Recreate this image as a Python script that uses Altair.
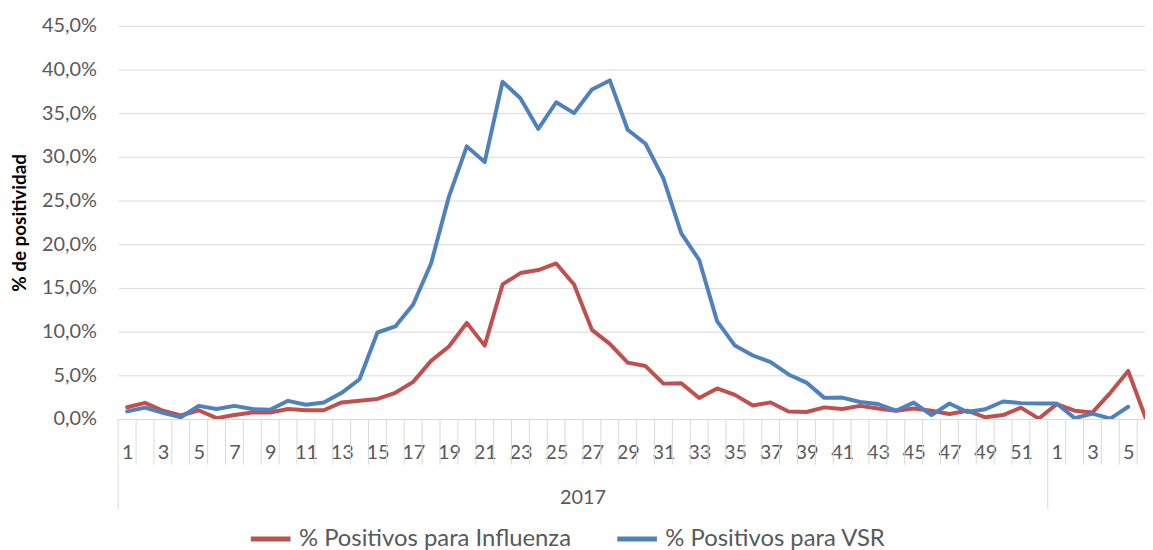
import altair as alt
import pandas as pd

# ---- data ----
week_labels = list(range(1, 53)) + list(range(1, 7))
years = [2017] * 52 + [2018] * 6
years_labelled = [2017]

influenza = [1.35, 1.85, 0.95, 0.4, 1.0, 0.1, 0.45, 0.75, 0.75, 1.15,
             1.0, 1.0, 1.9, 2.1, 2.3, 3.0, 4.25, 6.65, 8.3, 11.0,
             8.4, 15.4, 16.7, 17.05, 17.8, 15.4, 10.2, 8.6, 6.45, 6.06,
             4.05, 4.1, 2.4, 3.5, 2.76, 1.55, 1.9, 0.87, 0.8, 1.33,
             1.14, 1.5, 1.2, 0.95, 1.2, 0.95, 0.57, 0.95, 0.2, 0.45,
             1.3, 0.05, 1.7, 0.95, 0.75, 3.0, 5.5, 0.0]
vsr = [0.87, 1.3, 0.7, 0.2, 1.5, 1.14, 1.5, 1.14, 1.05, 2.08,
       1.63, 1.9, 3.0, 4.55, 9.9, 10.6, 13.1, 17.8, 25.45, 31.2,
       29.4, 38.6, 36.7, 33.2, 36.25, 35.0, 37.7, 38.75, 33.1, 31.5,
       27.5, 21.25, 18.2, 11.2, 8.4, 7.27, 6.5, 5.1, 4.17, 2.42,
       2.45, 1.95, 1.72, 0.95, 1.88, 0.45, 1.78, 0.8, 1.12, 2.0,
       1.82, 1.78, 1.78, 0.1, 0.62, 0.05, 1.4, None]

series_names = ["% Positivos para Influenza", "% Positivos para VSR"]
series_colors = ["#C0504D", "#4F81BD"]
y_ticks = [0, 0.05, 0.10, 0.15, 0.20, 0.25, 0.30, 0.35, 0.40, 0.45]
y_title = "% de positividad"

# ---- tables built from the arrays ----
idx = list(range(1, len(week_labels) + 1))
rows = []
for i, a, b in zip(idx, influenza, vsr):
    rows.append({"idx": i, "serie": series_names[0], "valor": a / 100})
    if b is not None:
        rows.append({"idx": i, "serie": series_names[1], "valor": b / 100})
df = pd.DataFrame(rows)

first_of_year = [i for k, i in enumerate(idx) if k == 0 or years[k] != years[k - 1]]
short_seps = pd.DataFrame({"b": [i - 0.5 for i in idx if i not in first_of_year] + [idx[-1] + 0.5]})
long_seps = pd.DataFrame({"b": [i - 0.5 for i in first_of_year]})

year_df = pd.DataFrame([
    {"year": str(y), "c": sum(i for i, yy in zip(idx, years) if yy == y) /
     sum(1 for yy in years if yy == y)}
    for y in years_labelled
])

odd_ticks = [i for i, w in zip(idx, week_labels) if w % 2 == 1]
n2017 = sum(1 for y in years if y == 2017)

FONT = "Lato"
GRAY = "#595959"
GRID = "#D9D9D9"

xscale = alt.Scale(domain=[0.5, 57.94], nice=False, zero=False)

lines = alt.Chart(df).mark_line(
    strokeWidth=4, strokeJoin="round", strokeCap="round", clip=True
).encode(
    x=alt.X("idx:Q", scale=xscale, title=None,
            axis=alt.Axis(values=odd_ticks, tickCount=len(odd_ticks) + 10,
                          labelExpr=f"datum.value > {n2017} ? datum.value - {n2017} : datum.value",
                          ticks=False, domain=True, domainColor=GRID, domainWidth=1,
                          grid=False, labelFont=FONT, labelFontSize=20,
                          labelColor=GRAY, labelPadding=24, labelFlush=False,
                          labelOverlap=False)),
    y=alt.Y("valor:Q",
            scale=alt.Scale(domain=[0, 0.45], nice=False),
            axis=alt.Axis(values=y_ticks,
                          labelExpr="replace(format(datum.value, '.1%'), '.', ',')",
                          ticks=False, domain=False, grid=True, gridColor=GRID,
                          gridWidth=1, labelFont=FONT, labelFontSize=20,
                          labelColor=GRAY, labelPadding=22,
                          title=y_title, titleFont=FONT, titleFontSize=19,
                          titleFontWeight="bold", titleColor="#000000",
                          titleAngle=270, titleX=-99, titleY=198,
                          titleAlign="center", titleBaseline="middle")),
    color=alt.Color("serie:N",
                    scale=alt.Scale(domain=series_names, range=series_colors),
                    legend=alt.Legend(title=None, orient="none", direction="horizontal",
                                      legendX=131, legendY=494,
                                      symbolType="stroke", symbolSize=1600,
                                      symbolStrokeWidth=5, labelFont=FONT,
                                      labelFontSize=24, labelColor=GRAY,
                                      labelOffset=6, columnPadding=36,
                                      labelLimit=400)),
)

short_rules = alt.Chart(short_seps).mark_rule(color=GRID, strokeWidth=1).encode(
    x=alt.X("b:Q", scale=xscale),
    y=alt.value(396), y2=alt.value(442))

long_rules = alt.Chart(long_seps).mark_rule(color=GRID, strokeWidth=1).encode(
    x=alt.X("b:Q", scale=xscale),
    y=alt.value(396), y2=alt.value(487))

year_text = alt.Chart(year_df).mark_text(
    font=FONT, fontSize=20, color=GRAY, baseline="middle", align="center"
).encode(x=alt.X("c:Q", scale=xscale), y=alt.value(476), text="year:N")

chart = alt.layer(short_rules, long_rules, year_text, lines).properties(
    width=1034, height=396,
    autosize=alt.AutoSizeParams(type="none"),
    padding={"left": 111, "top": 16, "right": 0, "bottom": 130},
    background="white",
).configure_view(stroke=None)

chart.save("out.html", embed_options={"renderer": "svg", "actions": False})
